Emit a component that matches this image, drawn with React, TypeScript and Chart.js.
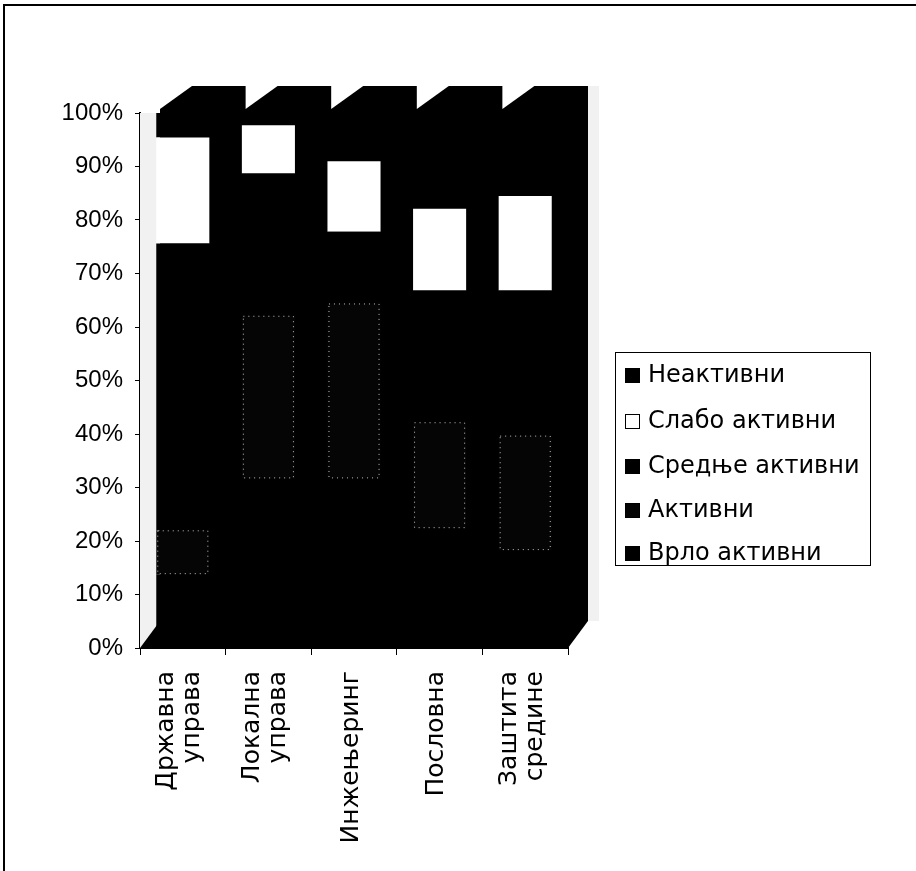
import React, { useEffect, useRef } from 'react';
import { Chart, registerables } from 'chart.js';

Chart.register(...registerables);

const categories: string[][] = [
  ['Државна', 'управа'],
  ['Локална', 'управа'],
  ['Инжењеринг'],
  ['Пословна'],
  ['Заштита', 'средине'],
];
const vrloAktivni = [13.8, 31.7, 31.7, 22.4, 18.3];
const aktivni = [8.2, 30.4, 32.7, 19.8, 21.4];
const srednjeAktivni = [53.6, 26.6, 13.4, 24.6, 27.1];
const slaboAktivni = [19.8, 9.0, 13.2, 15.3, 17.7];
const neaktivni = [4.6, 2.3, 9.0, 17.9, 15.5];
const seriesNames = ['Врло активни', 'Активни', 'Средње активни', 'Слабо активни', 'Неактивни'];
const seriesColors = ['#000000', '#050505', '#000000', '#ffffff', '#000000'];

const FONT = '"Liberation Sans", Arial, sans-serif';
const WIDE_FONT = '"DejaVu Sans", sans-serif';
const DX = 20;
const DY = -27;

const wallPlugin = {
  id: 'wall3d',
  beforeDatasetsDraw(chart: any) {
    const { ctx, chartArea, scales } = chart;
    const { left, right, top, bottom } = chartArea;
    const x = scales.x;
    ctx.save();
    ctx.fillStyle = '#f1f1f1';
    ctx.fillRect(left, top, DX - 3, bottom - top);
    ctx.fillRect(right + DX, top + DY, 11, bottom - top);
    ctx.fillStyle = '#000';
    ctx.fillRect(left + DX, top + DY, right - left, bottom - top);
    ctx.beginPath();
    ctx.moveTo(left, bottom);
    ctx.lineTo(right, bottom);
    ctx.lineTo(right + DX, bottom + DY);
    ctx.lineTo(left + DX, bottom + DY);
    ctx.closePath();
    ctx.fill();
    const n = categories.length;
    const catW = (right - left) / n;
    ctx.fillStyle = '#fff';
    for (let i = 0; i < n; i++) {
      const cL = x.getPixelForValue(i) - catW / 2 + DX;
      ctx.beginPath();
      ctx.moveTo(cL, top + DY);
      ctx.lineTo(cL, top - 4);
      ctx.lineTo(cL + 32, top + DY);
      ctx.closePath();
      ctx.fill();
    }
    ctx.restore();
  },
  afterDatasetsDraw(chart: any) {
    const { ctx } = chart;
    const meta = chart.getDatasetMeta(1);
    ctx.save();
    ctx.setLineDash([1, 4]);
    ctx.strokeStyle = 'rgba(255,255,255,0.75)';
    ctx.lineWidth = 1;
    meta.data.forEach((el: any) => {
      const { x, y, base, width } = el.getProps(['x', 'y', 'base', 'width'], true);
      ctx.strokeRect(x - width / 2 + 1.5, y + 0.5, width - 3, base - y - 1);
    });
    ctx.restore();
  },
  afterDraw(chart: any) {
    const { ctx, chartArea, scales } = chart;
    ctx.save();
    // outer frame
    ctx.strokeStyle = '#000';
    ctx.lineWidth = 2;
    ctx.beginPath();
    ctx.moveTo(4, 871);
    ctx.lineTo(4, 5);
    ctx.lineTo(916, 5);
    ctx.stroke();
    // category labels (rotated, multi-line centred on the category)
    ctx.font = `25px ${WIDE_FONT}`;
    ctx.fillStyle = '#000';
    ctx.textAlign = 'right';
    ctx.textBaseline = 'middle';
    const lh = 26;
    categories.forEach((lines, i) => {
      const cx = scales.x.getPixelForValue(i);
      lines.forEach((t, j) => {
        const lx = cx - 3 + (j - (lines.length - 1) / 2) * lh;
        ctx.save();
        ctx.translate(lx, chartArea.bottom + 23);
        ctx.rotate(-Math.PI / 2);
        ctx.fillText(t, 0, 0);
        ctx.restore();
      });
    });
    // legend
    ctx.lineWidth = 1;
    ctx.strokeRect(615.5, 352.5, 255, 213);
    const ys = [375, 421, 466, 510, 553];
    ctx.font = `24px ${WIDE_FONT}`;
    ctx.textBaseline = 'middle';
    ctx.textAlign = 'left';
    for (let k = 0; k < seriesNames.length; k++) {
      const idx = seriesNames.length - 1 - k;
      const yc = ys[k];
      ctx.fillStyle = seriesColors[idx];
      ctx.fillRect(625, yc - 7, 15, 15);
      ctx.strokeStyle = '#000';
      ctx.strokeRect(625.5, yc - 6.5, 14, 14);
      ctx.fillStyle = '#000';
      ctx.fillText(seriesNames[idx], 648, yc + 1);
    }
    ctx.restore();
  },
};

export default function App() {
  const ref = useRef<HTMLCanvasElement | null>(null);
  useEffect(() => {
    if (!ref.current) return;
    const series = [vrloAktivni, aktivni, srednjeAktivni, slaboAktivni, neaktivni];
    const chart = new Chart(ref.current, {
      type: 'bar',
      data: {
        labels: categories.map((l) => l.join(' ')),
        datasets: series.map((d, i) => ({
          label: seriesNames[i],
          data: d,
          backgroundColor: seriesColors[i],
          borderWidth: 0,
          barPercentage: 0.62,
          categoryPercentage: 1,
        })),
      },
      options: {
        responsive: false,
        animation: false,
        layout: { padding: { left: 0, top: 113, right: 348, bottom: 0 } },
        plugins: { legend: { display: false }, tooltip: { enabled: false } },
        scales: {
          x: {
            stacked: true,
            offset: true,
            grid: { display: true, drawOnChartArea: false, drawTicks: true, tickLength: 7, color: '#000', offset: true },
            border: { display: true, color: '#000', width: 2 },
            ticks: { display: false, autoSkip: false },
            afterFit(s: any) { s.height = 223; },
          },
          y: {
            stacked: true,
            min: 0,
            max: 100,
            ticks: {
              stepSize: 10,
              callback: (v: any) => v + '%',
              color: '#000',
              font: { family: FONT, size: 24 },
              padding: 12,
            },
            grid: { drawOnChartArea: false, tickLength: 5, color: '#000' },
            border: { display: true, color: '#000', width: 2 },
            afterFit(s: any) { s.width = 140; },
          },
        },
      },
      plugins: [wallPlugin],
    });
    return () => chart.destroy();
  }, []);
  return (
    <div style={{ position: 'absolute', left: 0, top: 0, width: 916, height: 871, background: '#fff' }}>
      <canvas ref={ref} width={916} height={871} />
    </div>
  );
}
